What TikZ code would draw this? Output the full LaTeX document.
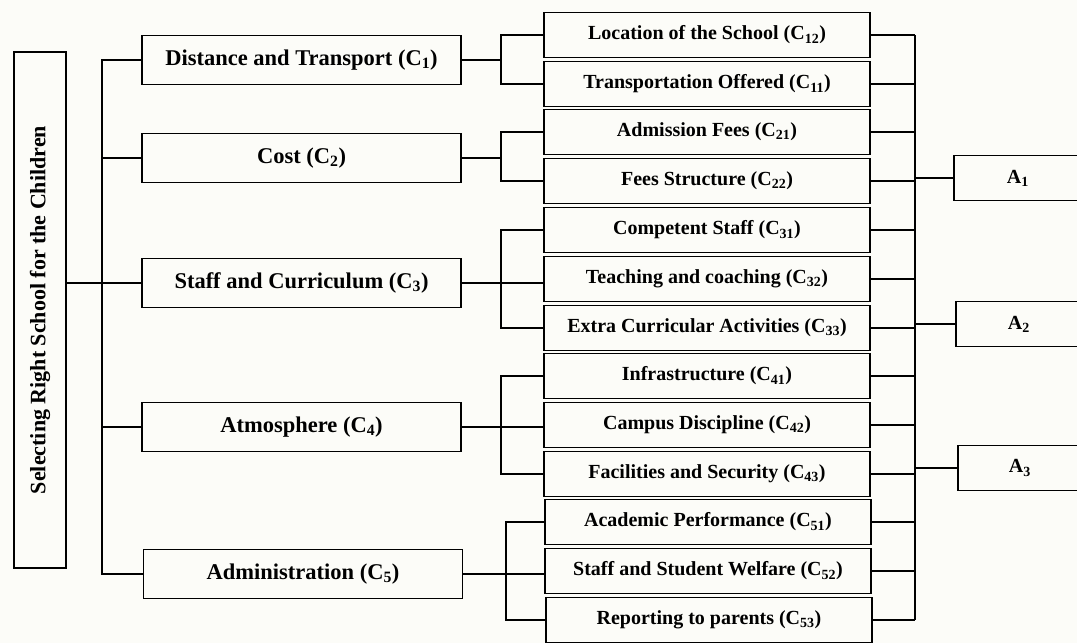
\documentclass[tikz,border=0pt]{standalone}
\usepackage{fontspec}
\setmainfont{Liberation Serif}
\usepackage{graphicx}
\definecolor{bg}{RGB}{252,252,248}
\newcommand{\sbs}[1]{\textsubscript{#1}}
\begin{document}
\begin{tikzpicture}[x=1pt,y=-1pt,
  box/.style={draw, line width=1.8pt, rectangle, inner sep=0pt, font=\bfseries\fontsize{22.5}{26}\selectfont},
  main/.style={box, minimum width=319pt, minimum height=49pt},
  subbox/.style={box, minimum width=326pt, minimum height=45pt, font=\bfseries\fontsize{20}{24}\selectfont},
  abox/.style={box, anchor=west, minimum height=45pt, font=\bfseries\fontsize{20}{24}\selectfont},
  conn/.style={line width=1.6pt}]
\fill[bg] (0,0) rectangle (1077,643);
\clip (0,0) rectangle (1077,643);
% root
\node[box, minimum width=52pt, minimum height=516pt, font=\bfseries\fontsize{22}{26}\selectfont] (root) at (40,310) {\rotatebox{90}{Selecting Right School for the Children}};
% criteria
\node[main] (C1) at (301.5,60) {Distance and Transport (C\sbs{1})};
\node[main] (C2) at (301.5,158) {Cost (C\sbs{2})};
\node[main] (C3) at (301.5,283) {Staff and Curriculum (C\sbs{3})};
\node[main] (C4) at (301.5,427) {Atmosphere (C\sbs{4})};
\node[main] (C5) at (303,574) {Administration (C\sbs{5})};
% sub-criteria
\node[subbox] (C12) at (707,35) {Location of the School (C\sbs{12})};
\node[subbox] (C11) at (707,84) {Transportation Offered (C\sbs{11})};
\node[subbox] (C21) at (707,132) {Admission Fees (C\sbs{21})};
\node[subbox] (C22) at (707,181) {Fees Structure (C\sbs{22})};
\node[subbox] (C31) at (707,230) {Competent Staff (C\sbs{31})};
\node[subbox] (C32) at (707,279) {Teaching and coaching (C\sbs{32})};
\node[subbox] (C33) at (707,328) {Extra Curricular Activities (C\sbs{33})};
\node[subbox] (C41) at (707,376) {Infrastructure (C\sbs{41})};
\node[subbox] (C42) at (707,425) {Campus Discipline (C\sbs{42})};
\node[subbox] (C43) at (707,474) {Facilities and Security (C\sbs{43})};
\node[subbox] (C51) at (708,522) {Academic Performance (C\sbs{51})};
\node[subbox] (C52) at (708,571) {Staff and Student Welfare (C\sbs{52})};
\node[subbox] (C53) at (709,620) {Reporting to parents (C\sbs{53})};
% alternatives
\node[abox] (A1) at (953,178) {\makebox[128pt]{A\sbs{1}}\hspace*{100pt}};
\node[abox] (A2) at (955,324) {\makebox[126pt]{A\sbs{2}}\hspace*{100pt}};
\node[abox] (A3) at (957,468) {\makebox[124pt]{A\sbs{3}}\hspace*{100pt}};
% bus coordinates
\coordinate (mb) at (102,0);
\coordinate (sb) at (501,0);
\coordinate (sb5) at (506,0);
\coordinate (rb) at (915,0);
% root to criteria
\draw[conn] (root.east |- C3) -- (C3.west);
\draw[conn] (C1.west) -- (C1.west -| mb) -- (C5.west -| mb) -- (C5.west);
\draw[conn] (C2.west) -- (C2.west -| mb);
\draw[conn] (C4.west) -- (C4.west -| mb);
% criteria to sub-criteria
\draw[conn] (C1.east) -- (C1.east -| sb);
\draw[conn] (C12.west) -- (C12.west -| sb) -- (C11.west -| sb) -- (C11.west);
\draw[conn] (C2.east) -- (C2.east -| sb);
\draw[conn] (C21.west) -- (C21.west -| sb) -- (C22.west -| sb) -- (C22.west);
\draw[conn] (C3.east) -- (C3.east -| C32.west);
\draw[conn] (C31.west) -- (C31.west -| sb) -- (C33.west -| sb) -- (C33.west);
\draw[conn] (C4.east) -- (C4.east -| C42.west);
\draw[conn] (C41.west) -- (C41.west -| sb) -- (C43.west -| sb) -- (C43.west);
\draw[conn] (C5.east) -- (C5.east -| C52.west);
\draw[conn] (C51.west) -- (C51.west -| sb5) -- (C53.west -| sb5) -- (C53.west);
% sub-criteria to right bus
\foreach \n in {C12,C11,C21,C22,C31,C32,C33,C41,C42,C43,C51,C52,C53}
  \draw[conn] (\n.east) -- (\n.east -| rb);
\draw[conn] (C12.east -| rb) -- (C53.east -| rb);
% bus to alternatives
\draw[conn] (A1.west -| rb) -- (A1.west);
\draw[conn] (A2.west -| rb) -- (A2.west);
\draw[conn] (A3.west -| rb) -- (A3.west);
\end{tikzpicture}
\end{document}
